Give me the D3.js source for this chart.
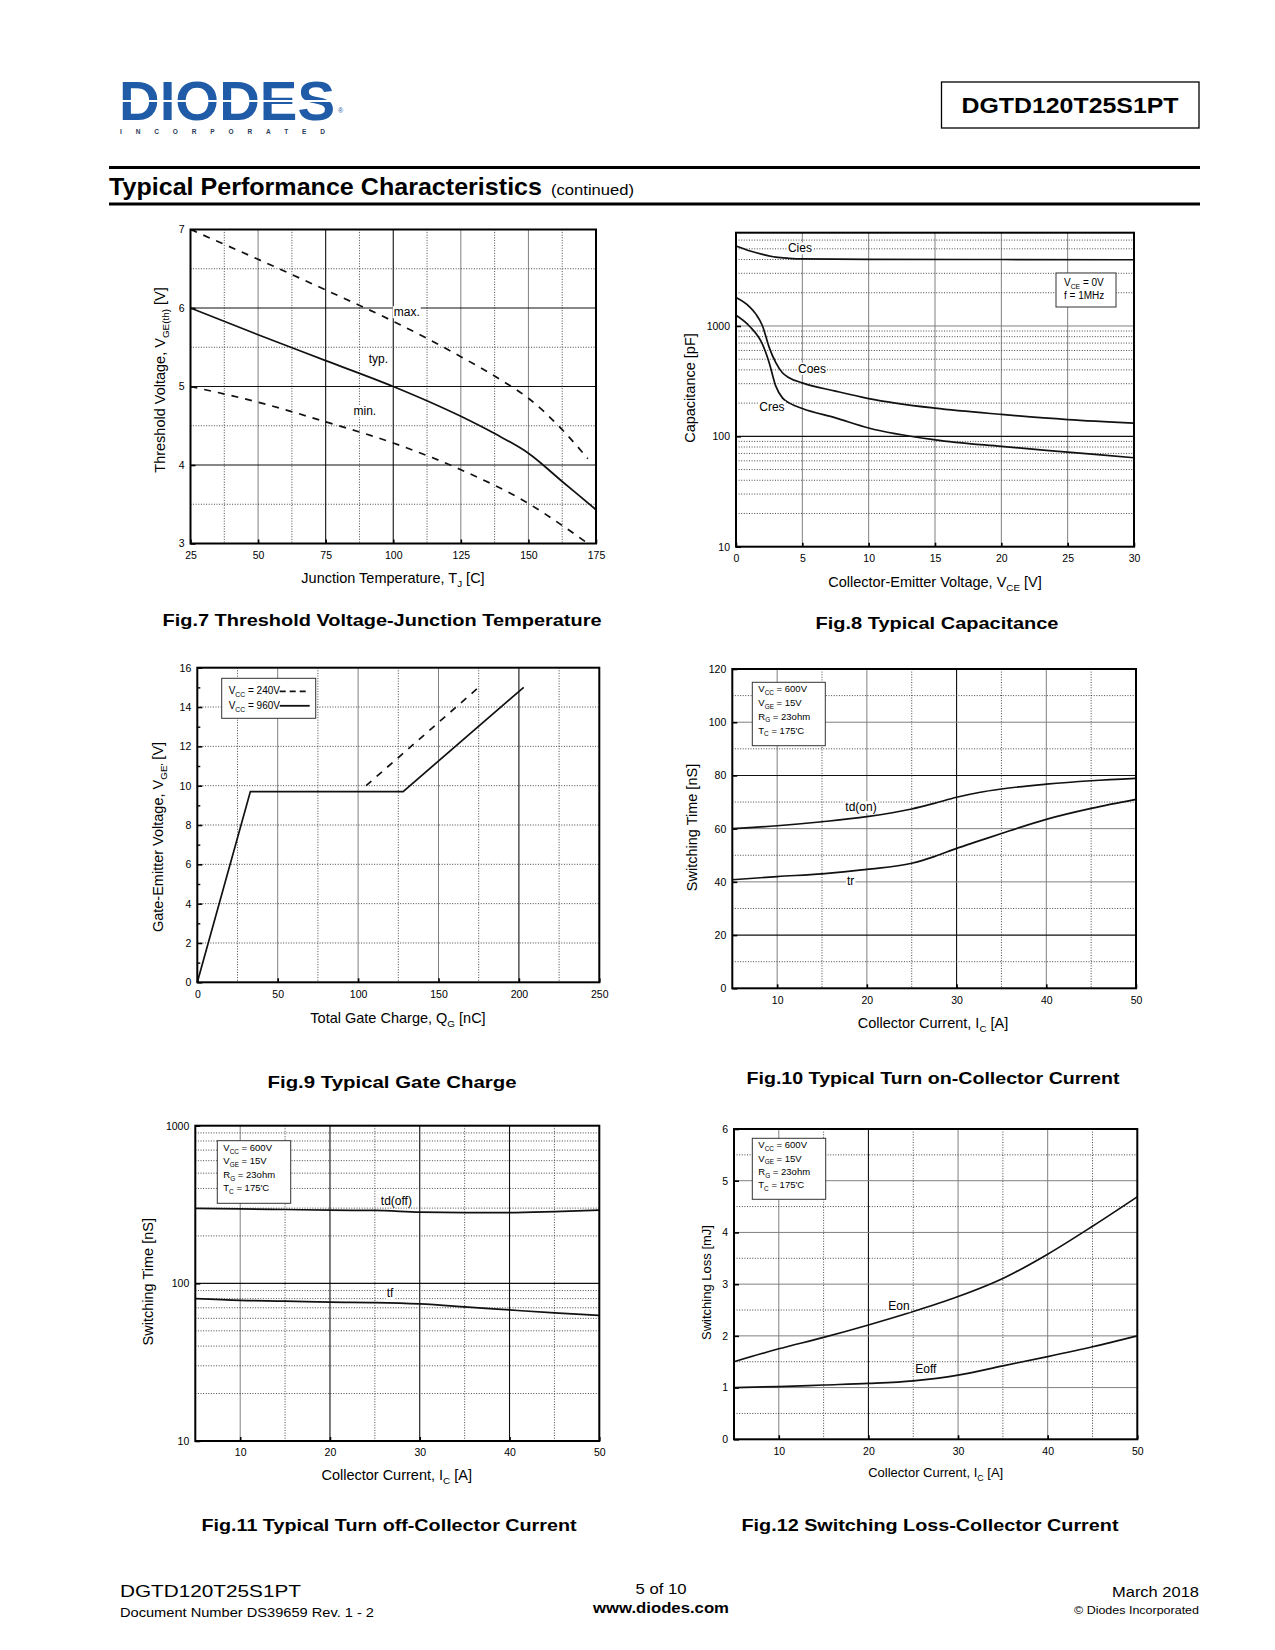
<!DOCTYPE html>
<html><head><meta charset="utf-8">
<script src="https://cdn.jsdelivr.net/npm/d3@7"></script>
<style>body{margin:0;background:#fff}svg{display:block}text{font-family:"Liberation Sans",Arial,sans-serif}</style>
</head><body>
<script>
// ---------------- DATA ----------------
// Fig.7 Threshold voltage vs junction temperature [T, V]
const fig7Max = [[25,7.0],[50,6.62],[75,6.23],[100,5.83],[125,5.38],[140,5.08],[150,4.85],[162.5,4.45],[172,4.08]];
const fig7Typ = [[25,6.0],[50,5.66],[75,5.33],[100,5.0],[125,4.62],[137.5,4.40],[150,4.15],[162.5,3.79],[175,3.43]];
const fig7Min = [[25,5.0],[50,4.8],[75,4.55],[100,4.28],[125,3.94],[150,3.51],[162.5,3.23],[172,3.0]];
const fig7XTicks = [25,50,75,100,125,150,175];
const fig7YTicks = [3,4,5,6,7];
// Fig.8 Capacitance vs VCE [V, pF]
const fig8Cies = [[0,5300],[1,4800],[2,4450],[3,4200],[4,4100],[5,4050],[10,4020],[20,4000],[30,3980]];
const fig8Coes = [[0,1810],[1,1500],[1.5,1280],[2,1000],[2.5,640],[3,465],[3.5,377],[4,340],[5,305],[7.5,257],[10,220],[15,180],[20,158],[25,142],[30,132]];
const fig8Cres = [[0,1250],[1,1000],[2,680],[2.5,465],[3,285],[3.5,223],[4,201],[5,179],[7.5,147],[10,119],[15,93],[20,81],[25,72],[30,64]];
const fig8XTicks = [0,5,10,15,20,25,30];
const fig8YTicks = [10,100,1000];
// Fig.9 Gate charge [nC, V]
const fig9Vcc960 = [[0,0],[33,9.7],[128,9.7],[203,15]];
const fig9Vcc240 = [[105,10],[175,15]];
const fig9XTicks = [0,50,100,150,200,250];
const fig9YTicks = [0,2,4,6,8,10,12,14,16];
// Fig.10 Turn-on times vs Ic
const fig10Ic   = [5,10,15,20,25,27.5,30,32.5,35,40,45,50];
const fig10Tdon = [60,61.1,62.6,64.5,67.4,69.5,71.8,73.6,74.9,76.7,78.0,78.9];
const fig10Tr   = [40.8,42.0,43.0,44.7,47.0,49.5,52.6,55.4,58.2,63.5,67.6,71.0];
const fig10XTicks = [10,20,30,40,50];
const fig10YTicks = [0,20,40,60,80,100,120];
// Fig.11 Turn-off times vs Ic
const fig11Ic    = [5,10,15,20,25,30,35,40,45,50];
const fig11Tdoff = [299,297,294,291,290,283,281,281,285,291];
const fig11Tf    = [80,78,77.2,76,75.5,74,71,67.8,64.9,62.6];
const fig11XTicks = [10,20,30,40,50];
const fig11YTicks = [10,100,1000];
// Fig.12 Switching loss vs Ic
const fig12Ic   = [5,10,15,20,25,30,35,40,45,50];
const fig12Eon  = [1.5,1.75,1.97,2.21,2.47,2.76,3.11,3.58,4.12,4.69];
const fig12Eoff = [1.0,1.02,1.05,1.08,1.13,1.24,1.42,1.60,1.79,2.0];
const fig12XTicks = [10,20,30,40,50];
const fig12YTicks = [0,1,2,3,4,5,6];
const condLines = [["V","CC"," = 600V"],["V","GE"," = 15V"],["R","G"," = 23ohm"],["T","C"," = 175'C"]];

// ---------------- DRAW ----------------
const svg = d3.select("body").append("svg").attr("width",1275).attr("height",1650);
const FONT = '"Liberation Sans",Arial,sans-serif';

function txt(x,y,s,size,o={}){
  const t = svg.append("text").attr("x",x).attr("y",y).attr("font-size",size)
    .attr("font-weight",o.bold?"bold":"normal").attr("text-anchor",o.anchor||"start")
    .attr("fill",o.fill||"#000").text(s);
  if(o.len){t.attr("textLength",o.len).attr("lengthAdjust",o.adj||"spacingAndGlyphs");}
  return t;
}
function rich(parent,x,y,parts,size,o={}){
  const t = parent.append("text").attr("x",x).attr("y",y).attr("font-size",size)
    .attr("text-anchor",o.anchor||"middle").attr("fill","#000");
  if(o.rotate) t.attr("transform",`rotate(-90,${x},${y})`);
  let shift=0;
  parts.forEach((p,i)=>{
    const sub = (i%2===1);
    const sp = t.append("tspan").text(p);
    const target = sub? size*0.3 : 0;
    if(target!==shift){ sp.attr("dy",target-shift); shift=target; }
    if(sub) sp.attr("font-size",size*0.68);
  });
  return t;
}

const GS = {k:{s:"#111",w:1.1,d:null}, g:{s:"#808080",w:1,d:null}, d:{s:"#333",w:0.9,d:"1,1.6"}};

function chart(c){
  const g = svg.append("g");
  const x = d3.scaleLinear().domain(c.xd).range([c.L,c.R]);
  const y = (c.log?d3.scaleLog():d3.scaleLinear()).domain(c.yd).range([c.B,c.T]);
  c.vg.forEach(([v,t])=>{const s=GS[t];
    g.append("line").attr("x1",x(v)).attr("x2",x(v)).attr("y1",c.T).attr("y2",c.B)
     .attr("stroke",s.s).attr("stroke-width",s.w).attr("stroke-dasharray",s.d);});
  c.hg.forEach(([v,t])=>{const s=GS[t];
    g.append("line").attr("y1",y(v)).attr("y2",y(v)).attr("x1",c.L).attr("x2",c.R)
     .attr("stroke",s.s).attr("stroke-width",s.w).attr("stroke-dasharray",s.d);});
  const fmt = d3.format("d");
  const ax = g.append("g").attr("transform",`translate(0,${c.B})`)
    .call(d3.axisBottom(x).tickValues(c.xt).tickSizeInner(-4).tickSizeOuter(0).tickPadding(8).tickFormat(fmt));
  const ay = g.append("g").attr("transform",`translate(${c.L},0)`)
    .call(d3.axisLeft(y).tickValues(c.yt).tickSizeInner(-5).tickSizeOuter(0).tickPadding(6).tickFormat(fmt));
  [ax,ay].forEach(a=>{a.select(".domain").remove();a.attr("font-family",FONT).attr("font-size",10.5);
    a.selectAll("line").attr("stroke","#000").attr("stroke-width",1.6);
    a.selectAll("text").attr("fill","#000");});
  if(c.yMinor){
    const am = g.append("g").attr("transform",`translate(${c.L},0)`)
      .call(d3.axisLeft(y).tickValues(c.yMinor).tickSizeInner(-3).tickSizeOuter(0).tickFormat(""));
    am.select(".domain").remove(); am.selectAll("line").attr("stroke","#000").attr("stroke-width",1.4);
  }
  c.series.forEach(s=>{
    const line = d3.line().x(d=>x(d[0])).y(d=>y(d[1])).curve(s.linear?d3.curveLinear:d3.curveMonotoneX);
    g.append("path").attr("d",line(s.data)).attr("fill","none").attr("stroke","#111")
      .attr("stroke-width",1.7).attr("stroke-dasharray",s.dash?"7,7":null);
  });
  (c.labels||[]).forEach(l=>{
    const t = g.append("text").attr("x",x(l.x)).attr("y",y(l.y)+4.3).attr("font-size",12)
      .attr("text-anchor","middle").attr("fill","#000").text(l.t);
    if(l.bg){const b=t.node().getBBox();
      g.insert("rect",()=>t.node()).attr("x",b.x-1).attr("y",b.y+1).attr("width",b.width+2).attr("height",b.height-2).attr("fill","#fff");}
  });
  g.append("rect").attr("x",c.L).attr("y",c.T).attr("width",c.R-c.L).attr("height",c.B-c.T)
    .attr("fill","none").attr("stroke","#000").attr("stroke-width",2);
  if(c.legend){
    const lg=c.legend;
    g.append("rect").attr("x",c.L+lg.dx).attr("y",c.T+lg.dy).attr("width",lg.w).attr("height",lg.h)
      .attr("fill","#fff").attr("stroke","#333").attr("stroke-width",1);
    lg.lines.forEach((ln,i)=>{
      rich(g,c.L+lg.dx+lg.tx,c.T+lg.dy+lg.ty+i*lg.step,ln,lg.fs,{anchor:"start"});
      if(lg.samples){const smp=lg.samples[i];
        g.append("line").attr("x1",c.L+lg.dx+lg.sx0).attr("x2",c.L+lg.dx+lg.sx1)
          .attr("y1",c.T+lg.dy+lg.ty+i*lg.step-3).attr("y2",c.T+lg.dy+lg.ty+i*lg.step-3)
          .attr("stroke","#111").attr("stroke-width",1.8).attr("stroke-dasharray",smp?"6,4":null);}
    });
  }
  rich(svg,c.xt0[0],c.xt0[1]+5,c.xTitle,c.tfs||14.5);
  rich(svg,c.yt0[0]+5,c.yt0[1],c.yTitle,c.tfs||14.5,{rotate:true});
  txt(c.cap[0],c.cap[1]+6,c.capText,17,{bold:true,anchor:"middle",len:c.cap[2]});
}
const pairs=(xs,ys)=>xs.map((v,i)=>[v,ys[i]]);

// ---- Header ----
txt(119,120,"DIODES",56,{bold:true,fill:"#1f5ba6",len:216}).attr("font-family","DejaVu Sans");
svg.append("line").attr("x1",117).attr("x2",337).attr("y1",101).attr("y2",101).attr("stroke","#fff").attr("stroke-width",2.2);
txt(120,134,"INCORPORATED",6.5,{bold:true,fill:"#2a3a5a",len:205,adj:"spacing"});
txt(338,113,"®",7,{fill:"#1f5ba6"});
svg.append("rect").attr("x",941.5).attr("y",82).attr("width",257.5).attr("height",46).attr("fill","none").attr("stroke","#000").attr("stroke-width",1.3);
txt(1070,113,"DGTD120T25S1PT",22,{bold:true,anchor:"middle",len:217});
svg.append("rect").attr("x",109).attr("y",166).attr("width",1091).attr("height",3).attr("fill","#000");
svg.append("rect").attr("x",109).attr("y",202.5).attr("width",1091).attr("height",3).attr("fill","#000");
txt(109,195,"Typical Performance Characteristics",24,{bold:true,len:433});
txt(551,195,"(continued)",14,{len:83});

// ---- Fig.7 ----
chart({L:190.5,R:596,T:229.5,B:543.5,xd:[25,175],yd:[3,7],xt:fig7XTicks,yt:fig7YTicks,
  vg:[[37.5,"d"],[50,"g"],[62.5,"d"],[75,"k"],[87.5,"d"],[100,"k"],[112.5,"d"],[125,"g"],[137.5,"d"],[150,"g"],[162.5,"d"]],
  hg:[[3.5,"d"],[4,"k"],[4.5,"d"],[5,"k"],[5.5,"d"],[6,"k"],[6.5,"d"]],
  series:[{data:fig7Max,dash:true},{data:fig7Typ},{data:fig7Min,dash:true}],
  labels:[{t:"max.",x:105,y:5.95,bg:true},{t:"typ.",x:94.5,y:5.36,bg:true},{t:"min.",x:89.5,y:4.69,bg:true}],
  xTitle:["Junction Temperature, T","J"," [C]"],xt0:[393,578],
  yTitle:["Threshold Voltage, V","GE(th)"," [V]"],yt0:[160,380],
  capText:"Fig.7 Threshold Voltage-Junction Temperature",cap:[382,620,439]});

// ---- Fig.8 ----
const f8h=[];
[20,30,40,50,60,70,80,90,200,300,400,500,600,700,800,900,2000,3000,4000,5000,6000].forEach(v=>f8h.push([v,"d"]));
f8h.push([100,"k"],[1000,"g"]);
chart({L:736,R:1134,T:232.7,B:546.7,xd:[0,30],yd:[10,7000],log:true,xt:fig8XTicks,yt:fig8YTicks,
  vg:[[5,"g"],[10,"g"],[15,"g"],[20,"g"],[25,"g"]],hg:f8h,
  series:[{data:fig8Cies},{data:fig8Coes},{data:fig8Cres}],
  labels:[{t:"Cies",x:4.82,y:5080,bg:true},{t:"Coes",x:5.73,y:412,bg:true},{t:"Cres",x:2.71,y:186,bg:true}],
  legend:{dx:320,dy:40.3,w:60,h:34,tx:8,ty:12.5,step:13,fs:10,lines:[["V","CE"," = 0V"],["f = 1MHz"]]},
  xTitle:["Collector-Emitter Voltage, V","CE"," [V]"],xt0:[935,582],
  yTitle:["Capacitance [pF]"],yt0:[690,388],
  capText:"Fig.8 Typical Capacitance",cap:[937,623,243]});

// ---- Fig.9 ----
chart({L:197.3,R:599.3,T:667.7,B:982.3,xd:[0,250],yd:[0,16],xt:fig9XTicks,yt:fig9YTicks,yMinor:[1,3,5,7,9,11,13,15],
  vg:[[25,"d"],[50,"g"],[75,"d"],[100,"g"],[125,"d"],[150,"g"],[175,"d"],[200,"k"],[225,"d"]],
  hg:[[2,"d"],[4,"d"],[6,"d"],[8,"d"],[10,"d"],[12,"d"],[14,"d"]],
  series:[{data:fig9Vcc240,dash:true,linear:true},{data:fig9Vcc960,linear:true}],
  legend:{dx:24.4,dy:10.6,w:94,h:40,tx:7,ty:16,step:14.5,fs:10,lines:[["V","CC"," = 240V"],["V","CC"," = 960V"]],
    samples:[true,false],sx0:58,sx1:88},
  xTitle:["Total Gate Charge, Q","G"," [nC]"],xt0:[398,1018],
  yTitle:["Gate-Emitter Voltage, V","GE'","  [V]"],yt0:[158,837],
  capText:"Fig.9 Typical Gate Charge",cap:[392,1082,249]});

// ---- Fig.10 ----
chart({L:732.3,R:1136,T:669,B:988.3,xd:[5,50],yd:[0,120],xt:fig10XTicks,yt:fig10YTicks,
  vg:[[10,"g"],[15,"d"],[20,"g"],[25,"d"],[30,"k"],[35,"d"],[40,"g"],[45,"d"]],
  hg:[[10,"d"],[20,"k"],[30,"d"],[40,"g"],[50,"d"],[60,"g"],[70,"d"],[80,"k"],[90,"d"],[100,"g"],[110,"d"]],
  series:[{data:pairs(fig10Ic,fig10Tdon)},{data:pairs(fig10Ic,fig10Tr)}],
  labels:[{t:"td(on)",x:19.35,y:68.2,bg:true},{t:"tr",x:18.2,y:40.3,bg:true}],
  legend:{dx:20,dy:13.3,w:73,h:63.4,tx:6,ty:9.5,step:13.9,fs:9.5,lines:condLines},
  xTitle:["Collector Current, I","C"," [A]"],xt0:[933,1023],
  yTitle:["Switching Time [nS]"],yt0:[691.7,827.5],
  capText:"Fig.10 Typical Turn on-Collector Current",cap:[933,1078,373]});

// ---- Fig.11 ----
const f11h=[];
[20,30,40,50,60,70,80,90,200,300,400,500,600,700,800,900].forEach(v=>f11h.push([v,"d"]));
f11h.push([100,"k"]);
chart({L:195.3,R:599.3,T:1125.7,B:1441,xd:[5,50],yd:[10,1000],log:true,xt:fig11XTicks,yt:fig11YTicks,
  vg:[[10,"g"],[15,"d"],[20,"k"],[25,"d"],[30,"k"],[35,"d"],[40,"k"],[45,"d"]],hg:f11h,
  series:[{data:pairs(fig11Ic,fig11Tdoff)},{data:pairs(fig11Ic,fig11Tf)}],
  labels:[{t:"td(off)",x:27.4,y:334,bg:true},{t:"tf",x:26.7,y:87.3,bg:true}],
  legend:{dx:22,dy:15,w:73.4,h:62.6,tx:6,ty:10,step:13.5,fs:9.5,lines:condLines},
  xTitle:["Collector Current, I","C"," [A]"],xt0:[396.7,1475],
  yTitle:["Switching Time [nS]"],yt0:[148.3,1281.7],
  capText:"Fig.11 Typical Turn off-Collector Current",cap:[389,1525,375]});

// ---- Fig.12 ----
chart({L:734,R:1137.3,T:1129,B:1439.3,xd:[5,50],yd:[0,6],xt:fig12XTicks,yt:fig12YTicks,
  vg:[[10,"g"],[15,"d"],[20,"k"],[25,"d"],[30,"g"],[35,"d"],[40,"g"],[45,"d"]],
  hg:[[0.5,"d"],[1,"g"],[1.5,"d"],[2,"g"],[2.5,"d"],[3,"g"],[3.5,"d"],[4,"g"],[4.5,"d"],[5,"g"],[5.5,"d"]],
  series:[{data:pairs(fig12Ic,fig12Eon)},{data:pairs(fig12Ic,fig12Eoff)}],
  labels:[{t:"Eon",x:23.4,y:2.58,bg:true},{t:"Eoff",x:26.4,y:1.36,bg:true}],
  legend:{dx:18.3,dy:9.3,w:73.4,h:61,tx:6,ty:10,step:13.3,fs:9.5,lines:condLines},
  xTitle:["Collector Current, I","C"," [A]"],xt0:[935.7,1472],tfs:13,
  yTitle:["Switching Loss [mJ]"],yt0:[706,1282.5],
  capText:"Fig.12 Switching Loss-Collector Current",cap:[930,1525,377]});

// ---- Footer ----
txt(120,1597,"DGTD120T25S1PT",17,{len:181});
txt(120,1617,"Document Number DS39659 Rev. 1 - 2",13,{len:254});
txt(661,1594,"5 of 10",14,{anchor:"middle",len:51});
txt(661,1613,"www.diodes.com",14,{bold:true,anchor:"middle",len:136});
txt(1199,1597,"March 2018",15,{anchor:"end",len:87});
txt(1199,1614,"© Diodes Incorporated",11,{anchor:"end",len:125});
</script>
</body></html>
